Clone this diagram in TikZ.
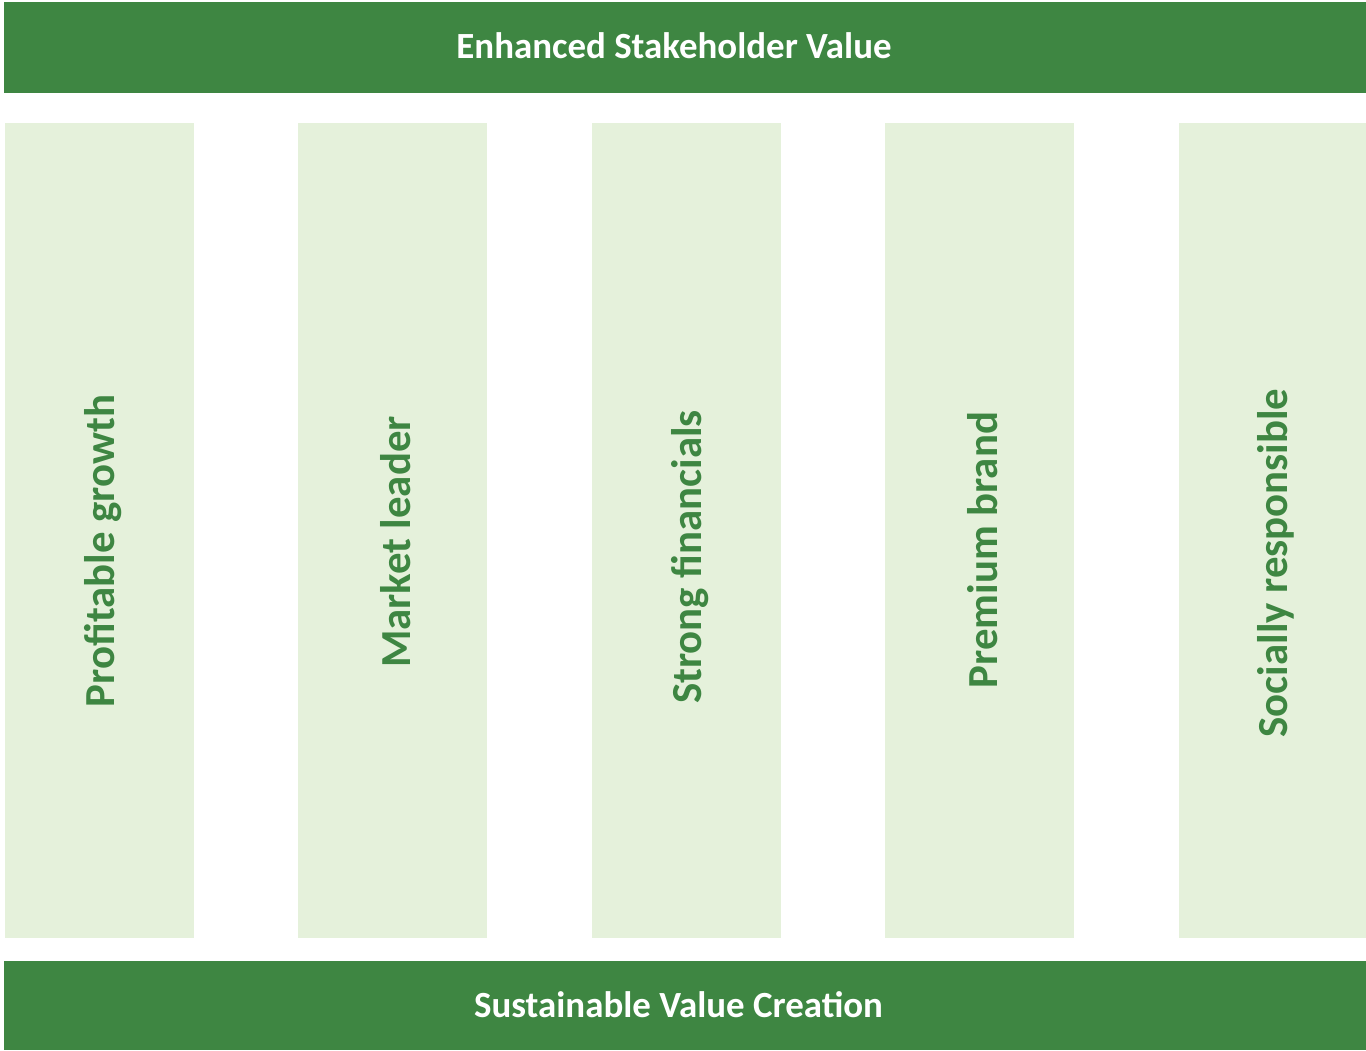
\documentclass[tikz,border=0pt]{standalone}
\usepackage{fontspec}
\setmainfont{Carlito}
\definecolor{dkgreen}{HTML}{3E8642}
\definecolor{ltgreen}{HTML}{E5F1DB}
\begin{document}
\begin{tikzpicture}[x=1pt,y=-1pt,
  bar/.style={fill=dkgreen,draw=none},
  col/.style={fill=ltgreen,draw=none},
  bartext/.style={text=white,font=\fontsize{36.9}{42}\selectfont\bfseries,inner sep=0pt},
  coltext/.style={text=dkgreen,font=\fontsize{42.8}{48}\selectfont\bfseries,rotate=90,inner sep=0pt}]
\useasboundingbox[fill=white] (0,0) rectangle (1366,1050);
\fill[bar] (4,2) rectangle (1366,93);
\fill[bar] (4,961) rectangle (1366,1050);
\fill[col] (5,123) rectangle (194,938);
\fill[col] (298,123) rectangle (487,938);
\fill[col] (592,123) rectangle (781,938);
\fill[col] (885,123) rectangle (1074,938);
\fill[col] (1179,123) rectangle (1366,938);
\node[bartext] (top) at (674,46) {Enhanced Stakeholder Value};
\node[bartext] (bot) at (678.5,1005) {Sustainable Value Creation};
\node[coltext] (c1) at (103,551) {Profitable growth};
\node[coltext] (c2) at (396,542) {Market leader};
\node[coltext] (c3) at (690,557) {Strong financials};
\node[coltext] (c4) at (983,550) {Premium brand};
\node[coltext] (c5) at (1276,563) {Socially responsible};
\end{tikzpicture}
\end{document}
